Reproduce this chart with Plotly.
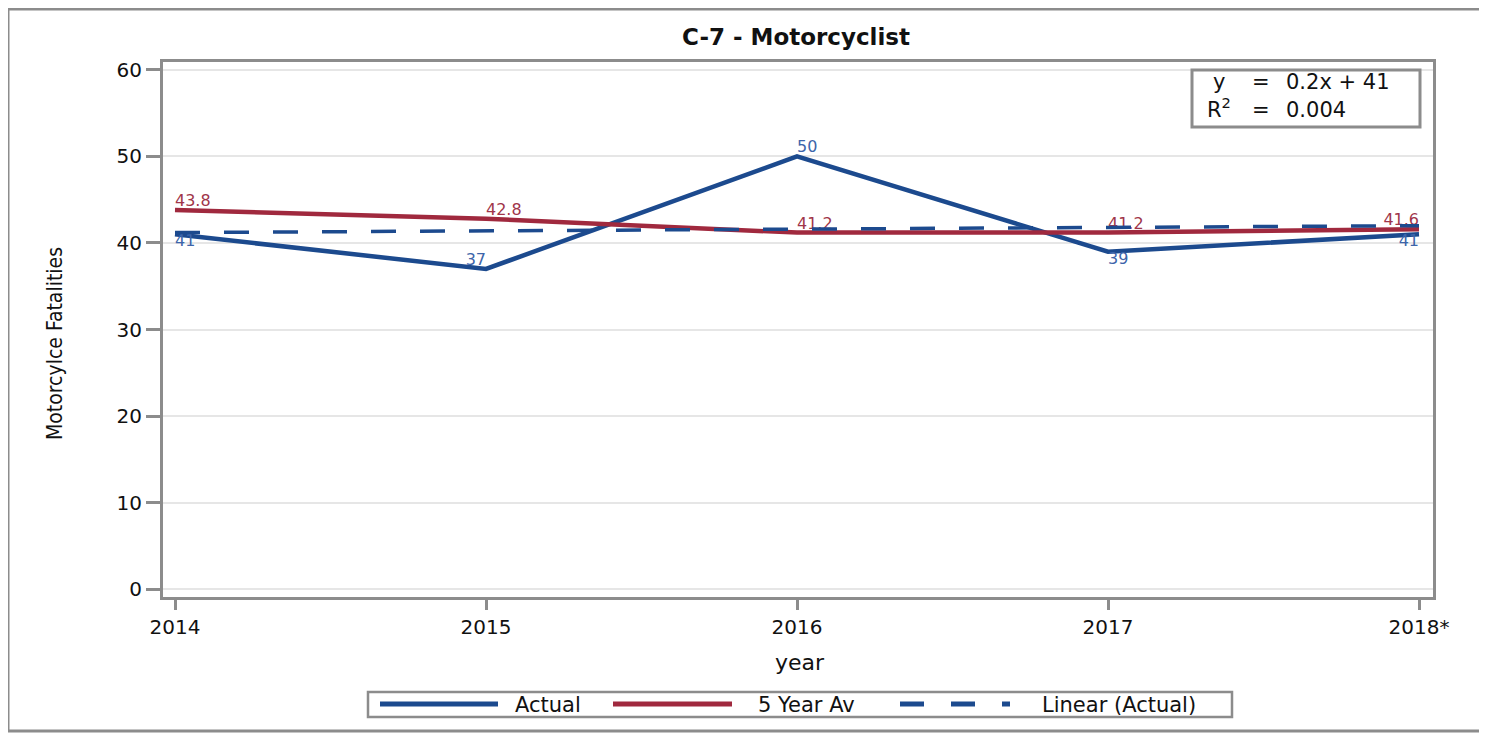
import plotly.graph_objects as go

years = ["2014", "2015", "2016", "2017", "2018*"]
actual = [41, 37, 50, 39, 41]
five_year_avg = [43.8, 42.8, 41.2, 41.2, 41.6]
linear_trend = [41.2, 41.4, 41.6, 41.8, 42.0]
actual_label_pos = ["bottom right", "top left", "top right", "bottom right", "bottom left"]
avg_label_pos = ["top right", "top right", "top right", "top right", "top left"]
y_ticks = [0, 10, 20, 30, 40, 50, 60]

BLUE = "#1c4a8e"
RED = "#a0293e"
BLUE_TXT = "#3d65aa"
RED_TXT = "#a0354a"
GRAY = "#8c8c8c"
INK = "#111111"
FONT = "DejaVu Sans"

# page is offset by the browser's 8px body margin; work in figure pixels
OFF = 8
W, H = 1487 - OFF, 735 - OFF
L, R, T, B = 163 - OFF, W - (1433 - OFF), 62 - OFF, H - (597 - OFF)
pw, ph = W - L - R, H - T - B


def px_x(p):  # reference page x -> paper
    return (p - OFF - L) / pw


def px_y(p):  # reference page y -> paper
    return (H - B - (p - OFF)) / ph


x = list(range(len(years)))

fig = go.Figure()
fig.add_trace(go.Scatter(
    x=x, y=actual, mode="lines+text", name="Actual", showlegend=False,
    line=dict(color=BLUE, width=4.5),
    text=[str(v) for v in actual], textposition=actual_label_pos,
    textfont=dict(color=BLUE_TXT, size=16, family=FONT),
))
fig.add_trace(go.Scatter(
    x=x, y=five_year_avg, mode="lines+text", name="5 Year Av", showlegend=False,
    line=dict(color=RED, width=4.5),
    text=[f"{v:.1f}" for v in five_year_avg], textposition=avg_label_pos,
    textfont=dict(color=RED_TXT, size=16, family=FONT),
))
fig.add_trace(go.Scatter(
    x=x, y=linear_trend, mode="lines", name="Linear (Actual)", showlegend=False,
    line=dict(color=BLUE, width=3.5, dash="25px,24px"),
))

annotations = [
    dict(text="<b>C-7 - Motorcyclist</b>", x=px_x(796), y=px_y(37),
         font=dict(size=23, family=FONT, color=INK)),
    dict(text="year", x=px_x(800), y=px_y(662),
         font=dict(size=22, family=FONT, color=INK)),
    dict(text="Motorcylce Fatalities", x=px_x(55), y=px_y(344), textangle=-90,
         font=dict(size=21, family="Liberation Sans Narrow, DejaVu Sans Condensed, sans-serif", color=INK)),
    # regression box text
    dict(text="y", x=px_x(1219), y=px_y(82), font=dict(size=21, family=FONT, color=INK)),
    dict(text="R<sup>2</sup>", x=px_x(1219), y=px_y(108), font=dict(size=21, family=FONT, color=INK)),
    dict(text="=", x=px_x(1261), y=px_y(82), font=dict(size=21, family=FONT, color=INK)),
    dict(text="=", x=px_x(1261), y=px_y(110), font=dict(size=21, family=FONT, color=INK)),
    dict(text="0.2x + 41", x=px_x(1284), y=px_y(82), xanchor="left",
         font=dict(size=21, family=FONT, color=INK)),
    dict(text="0.004", x=px_x(1284), y=px_y(110), xanchor="left",
         font=dict(size=21, family=FONT, color=INK)),
    # legend text
    dict(text="Actual", x=px_x(548), y=px_y(705), font=dict(size=21, family=FONT, color=INK)),
    dict(text="5 Year Av", x=px_x(806), y=px_y(705), font=dict(size=21, family=FONT, color=INK)),
    dict(text="Linear (Actual)", x=px_x(1119), y=px_y(705), font=dict(size=21, family=FONT, color=INK)),
]
for a in annotations:
    a.setdefault("xanchor", "center")
    a.update(xref="paper", yref="paper", yanchor="middle", showarrow=False)

shapes = [
    # outer frame
    dict(type="rect", x0=px_x(8), x1=px_x(1481), y0=px_y(731), y1=px_y(9),
         line=dict(color=GRAY, width=3), layer="below"),
    # regression box
    dict(type="rect", x0=px_x(1192), x1=px_x(1420), y0=px_y(127), y1=px_y(70),
         line=dict(color=GRAY, width=3), fillcolor="white", layer="above"),
    # legend box and keys
    dict(type="rect", x0=px_x(368), x1=px_x(1232), y0=px_y(717), y1=px_y(692),
         line=dict(color=GRAY, width=2.5), fillcolor="white", layer="below"),
    dict(type="line", x0=px_x(380), x1=px_x(498), y0=px_y(704), y1=px_y(704),
         line=dict(color=BLUE, width=5)),
    dict(type="line", x0=px_x(613), x1=px_x(732), y0=px_y(704), y1=px_y(704),
         line=dict(color=RED, width=5)),
    dict(type="line", x0=px_x(900), x1=px_x(1010), y0=px_y(704), y1=px_y(704),
         line=dict(color=BLUE, width=5, dash="24px,27px")),
]
for s in shapes:
    s.update(xref="paper", yref="paper")

fig.update_layout(
    width=W, height=H,
    margin=dict(l=L, r=R, t=T, b=B),
    paper_bgcolor="white", plot_bgcolor="white",
    font=dict(family=FONT, color=INK),
    showlegend=False,
    xaxis=dict(
        tickmode="array", tickvals=x, ticktext=years,
        range=[-0.0386, 4.045], showgrid=False, zeroline=False,
        showline=True, linecolor=GRAY, linewidth=3, mirror=True,
        ticks="outside", ticklen=10, tickwidth=3, tickcolor=GRAY,
        tickfont=dict(size=20, family=FONT, color=INK),
    ),
    yaxis=dict(
        range=[-0.92, 60.92], tickvals=y_ticks,
        showgrid=True, gridcolor="#e6e6e6", gridwidth=2, zeroline=False,
        showline=True, linecolor=GRAY, linewidth=3, mirror=True,
        ticks="outside", ticklen=14, tickwidth=3, tickcolor=GRAY,
        tickfont=dict(size=20, family=FONT, color=INK),
    ),
    annotations=annotations,
    shapes=shapes,
)

fig.write_html("out.html")
